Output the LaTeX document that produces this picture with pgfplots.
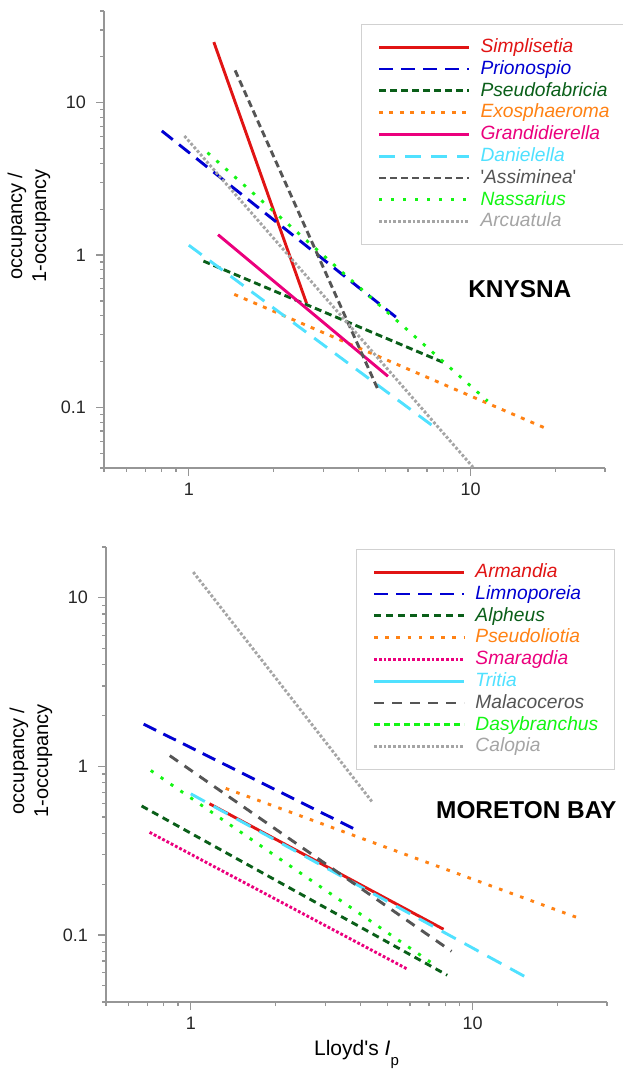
\documentclass[border=0pt]{standalone}
\usepackage{pgfplots}
\pgfplotsset{compat=1.18}
\usepackage{fontspec}
\setmainfont{Liberation Sans}
\setsansfont{Liberation Sans}

\definecolor{cRed}{RGB}{225,20,20}
\definecolor{cBlue}{RGB}{0,0,210}
\definecolor{cDkGreen}{RGB}{10,95,25}
\definecolor{cOrange}{RGB}{255,130,20}
\definecolor{cPink}{RGB}{235,0,125}
\definecolor{cCyan}{RGB}{80,225,255}
\definecolor{cDkGray}{RGB}{85,85,85}
\definecolor{cGreen}{RGB}{20,245,20}
\definecolor{cLtGray}{RGB}{165,165,165}
\definecolor{axisgray}{RGB}{150,150,150}

\pgfplotsset{
  scale only axis,
  width=250.5pt,
  clip=false,
  xmin=0.5, xmax=30,
  axis x line=bottom, axis y line=left,
  axis line style={-, draw=axisgray, line width=0.6pt},
  every tick/.style={draw=axisgray, line width=0.6pt},
  tick align=outside,
  major tick length=4pt, minor tick length=2pt,
  xtick={1,10},
  minor xtick={0.5,0.6,0.7,0.8,0.9,2,3,4,5,6,7,8,9,20,30},
  log ticks with fixed point,
  tick label style={font=\fontsize{9}{10}\selectfont, text=black!85},
  yticklabel style={xshift=-1.5pt},
  ylabel style={at={(axis description cs:-0.093,0.53)}, anchor=south,
    align=center, font=\fontsize{10}{12}\selectfont},
  legend style={draw=black!18, line width=0.6pt, fill=white,
    font=\fontsize{9.6}{10}\selectfont\itshape,
    row sep=1.1pt, inner xsep=8pt, inner ysep=6.5pt,
    nodes={inner sep=0pt, text height=7.5pt, text depth=2.3pt},
    /tikz/every odd column/.append style={column sep=5pt}},
  legend cell align=left,
  legend image code/.code={\draw[#1] (0pt,0pt) -- (45pt,0pt);},
  every axis plot/.append style={line width=1.45pt},
}

\begin{document}
\begin{tikzpicture}

% KNYSNA
\begin{loglogaxis}[
    at={(0,0)}, anchor=north west,
    height=228.5pt,
    ymin=0.04, ymax=40,
    ytick={0.1,1,10},
    minor ytick={0.04,0.05,0.06,0.07,0.08,0.09,0.2,0.3,0.4,0.5,0.6,0.7,0.8,0.9,2,3,4,5,6,7,8,9,20,30,40},
    /pgf/number format/assume math mode=true,
    ylabel={occupancy /\\1-occupancy},
    legend style={at={(axis description cs:0.513,0.972)}, anchor=north west},
  ]
  \addplot[cRed] coordinates {(1.227,25.0) (2.62,0.48)};
  \addlegendentry{\textcolor{cRed}{Simplisetia}}
  \addplot[cBlue, dash pattern=on 7pt off 4pt] coordinates {(0.802,6.53) (5.43,0.392)};
  \addlegendentry{\textcolor{cBlue}{Prionospio}}
  \addplot[cDkGreen, dash pattern=on 3.5pt off 2pt] coordinates {(1.127,0.913) (8.02,0.197)};
  \addlegendentry{\textcolor{cDkGreen}{Pseudofabricia}}
  \addplot[cOrange, dash pattern=on 2pt off 3.2pt] coordinates {(1.45,0.552) (18.9,0.0716)};
  \addlegendentry{\textcolor{cOrange}{Exosphaeroma}}
  \addplot[cPink] coordinates {(1.27,1.36) (5.09,0.16)};
  \addlegendentry{\textcolor{cPink}{Grandidierella}}
  \addplot[cCyan, dash pattern=on 8pt off 5pt] coordinates {(1.0,1.16) (7.64,0.0716)};
  \addlegendentry{\textcolor{cCyan}{Danielella}}
  \addplot[cDkGray, dash pattern=on 3.5pt off 2pt] coordinates {(1.46,16.3) (4.69,0.131)};
  \addlegendentry{\textcolor{cDkGray}{\textup{\textquotesingle}Assiminea\textup{\textquotesingle}}}
  \addplot[cGreen, dash pattern=on 1.6pt off 4.4pt] coordinates {(1.165,4.70) (11.5,0.110)};
  \addlegendentry{\textcolor{cGreen}{Nassarius}}
  \addplot[cLtGray, dash pattern=on 1.4pt off 1pt] coordinates {(0.965,6.05) (10.2,0.0405)};
  \addlegendentry{\textcolor{cLtGray}{Arcuatula}}
  \node[font=\bfseries\fontsize{12.2}{14}\selectfont] at (rel axis cs:0.83,0.392) {KNYSNA};
\end{loglogaxis}

% MORETON BAY
\begin{loglogaxis}[
    at={(1pt,-268pt)}, anchor=north west,
    height=227.5pt,
    ymin=0.04, ymax=20,
    ytick={0.1,1,10},
    minor ytick={0.04,0.05,0.06,0.07,0.08,0.09,0.2,0.3,0.4,0.5,0.6,0.7,0.8,0.9,2,3,4,5,6,7,8,9,20},
    /pgf/number format/assume math mode=true,
    ylabel={occupancy /\\1-occupancy},
    legend style={at={(axis description cs:0.499,0.996)}, anchor=north west},
    xlabel={Lloyd\textquotesingle s \textit{I}\raisebox{-5pt}{\fontsize{7.5}{8}\selectfont p}},
    xlabel style={at={(axis description cs:0.5,-0.1165)}, anchor=base,
      font=\fontsize{10.5}{12}\selectfont},
  ]
  \addplot[cRed] coordinates {(1.165,0.60) (7.89,0.108)};
  \addlegendentry{\textcolor{cRed}{Armandia}}
  \addplot[cBlue, dash pattern=on 7pt off 4pt] coordinates {(0.68,1.78) (3.85,0.421)};
  \addlegendentry{\textcolor{cBlue}{Limnoporeia}}
  \addplot[cDkGreen, dash pattern=on 3.5pt off 2.5pt] coordinates {(0.669,0.582) (8.13,0.0577)};
  \addlegendentry{\textcolor{cDkGreen}{Alpheus}}
  \addplot[cOrange, dash pattern=on 1.8pt off 3.8pt] coordinates {(1.33,0.74) (24.5,0.1236)};
  \addlegendentry{\textcolor{cOrange}{Pseudoliotia}}
  \addplot[cPink, dash pattern=on 1.4pt off 1pt] coordinates {(0.714,0.406) (5.89,0.0625)};
  \addlegendentry{\textcolor{cPink}{Smaragdia}}
  \addplot[cCyan, dash pattern=on 8pt off 5pt, legend image post style={solid}] coordinates {(1.0,0.687) (15.4,0.0564)};
  \addlegendentry{\textcolor{cCyan}{Tritia}}
  \addplot[cDkGray, dash pattern=on 5pt off 4pt] coordinates {(0.842,1.157) (8.42,0.080)};
  \addlegendentry{\textcolor{cDkGray}{Malacoceros}}
  \addplot[cGreen, dash pattern=on 1.6pt off 4.4pt, legend image post style={dash pattern=on 3pt off 2pt}] coordinates {(0.721,0.945) (7.09,0.069)};
  \addlegendentry{\textcolor{cGreen}{Dasybranchus}}
  \addplot[cLtGray, dash pattern=on 1.4pt off 1pt] coordinates {(1.02,14.2) (4.39,0.619)};
  \addlegendentry{\textcolor{cLtGray}{Calopia}}
  \node[font=\bfseries\fontsize{12.2}{14}\selectfont] at (rel axis cs:0.839,0.422) {MORETON BAY};
\end{loglogaxis}

\pgfresetboundingbox
\path (-52pt,5.5pt) rectangle (259pt,-530pt);
\end{tikzpicture}
\end{document}
